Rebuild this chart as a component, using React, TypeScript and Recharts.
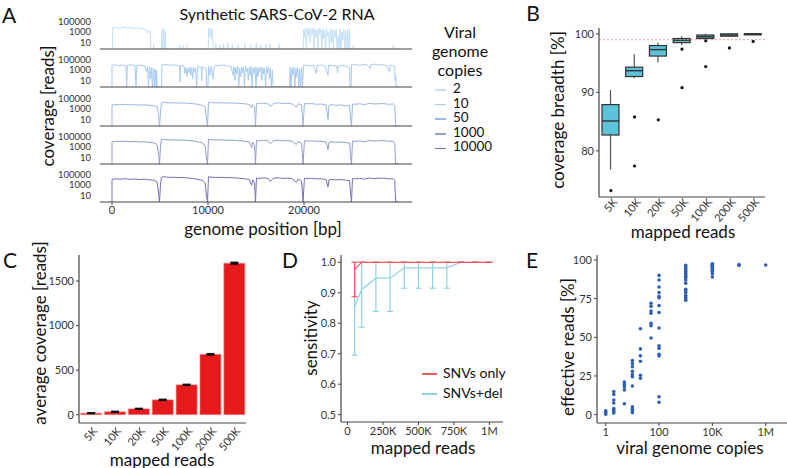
import React from 'react'
import {
  LineChart,
  Line,
  XAxis,
  YAxis,
  ComposedChart,
  BarChart,
  Bar,
  ErrorBar,
  ReferenceLine,
  ScatterChart,
  Scatter,
} from 'recharts'

const FONT = 'Lato, "Open Sans", sans-serif'
const INK = '#333'

// ---- panel A: coverage along the genome, one track per copy number ----
const copyLabels = ['2', '10', '50', '1000', '10000']
const trackColors = ['#c4dff5', '#a9cbee', '#9bb7e2', '#8f9ecb', '#7a6fb2']

// [genome position bp, coverage reads]
const cov2: [number, number][] = [
  [0, 0], [50, 0], [70, 6000], [400, 8000], [800, 5000], [1200, 9000], [1600, 6000], [2000, 7000],
  [2400, 5000], [2800, 6000], [3200, 4000], [3600, 3000], [3800, 600], [3900, 2000], [4000, 1000],
  [4030, 0], [4300, 0], [4320, 5], [4350, 0], [5150, 0], [5200, 3000], [5250, 0], [5380, 6000],
  [5430, 0], [5550, 2000], [5600, 0], [7080, 0], [7090, 3], [7110, 0], [7430, 0], [7440, 3],
  [7460, 0], [7840, 0], [7850, 3], [7870, 0], [10030, 0], [10050, 5000], [10150, 100], [10250, 6000],
  [10350, 50], [10450, 4000], [10550, 0], [10800, 0], [10820, 4], [10850, 0], [11200, 0], [11220, 3],
  [11250, 0], [11600, 0], [11620, 5], [11650, 0], [12000, 0], [12020, 8], [12100, 3], [12150, 0],
  [12500, 0], [12520, 4], [12550, 0], [13100, 0], [13120, 3], [13150, 0], [13800, 0], [13820, 5],
  [13850, 0], [14400, 0], [14420, 4], [14450, 0], [15000, 0], [15020, 6], [15050, 0], [15500, 0],
  [15520, 3], [15550, 0], [16000, 0], [16020, 5], [16050, 0], [16400, 0], [16420, 8], [16450, 0],
  [17400, 0], [17420, 6], [17450, 0], [19930, 0], [19950, 3000], [20050, 100], [20150, 5000],
  [20250, 0], [20350, 4000], [20450, 200], [20550, 6000], [20650, 10], [20750, 3000], [20850, 500],
  [20950, 5000], [21050, 0], [21150, 4000], [21250, 100], [21350, 2000], [21450, 0], [21550, 5000],
  [21650, 300], [21750, 3000], [21850, 0], [21950, 4000], [22050, 50], [22150, 2000], [22250, 0],
  [22350, 5000], [22450, 200], [22550, 1000], [22650, 0], [22750, 3000], [22850, 10], [22950, 4000],
  [23050, 0], [23150, 2000], [23250, 100], [23350, 3000], [23450, 0], [23550, 200], [23650, 0],
  [23750, 4000], [23850, 0], [23950, 1000], [24050, 30], [24150, 3000], [24250, 0], [24350, 2000],
  [24450, 0], [24550, 4000], [24650, 0], [24750, 3000], [24790, 0], [25120, 0], [25140, 3],
  [25170, 0], [29280, 0], [29300, 3], [29330, 0], [29903, 0],
]

const cov10: [number, number][] = [
  [0, 0], [1, 8000], [300, 10000], [700, 7000], [1100, 9000], [1450, 6000], [1530, 0], [1600, 8000],
  [2000, 10000], [2400, 7000], [2500, 0], [2580, 9000], [3000, 8000], [3400, 6000], [3600, 500],
  [3700, 5000], [3800, 0], [3900, 4000], [4000, 20], [4100, 3000], [4200, 0], [4300, 2000], [4400, 0],
  [4500, 1500], [4600, 0], [4650, 800], [4700, 0], [5150, 0], [5200, 9000], [5600, 12000],
  [6000, 8000], [6400, 10000], [6800, 7000], [7050, 6000], [7100, 5], [7150, 8000], [7500, 5000],
  [7600, 200], [7700, 3000], [7800, 50], [7900, 2000], [8000, 300], [8100, 4000], [8200, 100],
  [8300, 2500], [8400, 20], [8500, 3000], [8600, 500], [8700, 2000], [8820, 0], [8900, 5000],
  [9300, 3000], [9340, 10], [9400, 4000], [9800, 2000], [9860, 0], [10000, 0], [10050, 6000],
  [10200, 100], [10350, 5000], [10500, 20], [10650, 3000], [10800, 8000], [11200, 7000],
  [11600, 9000], [12000, 6000], [12400, 5000], [12600, 100], [12700, 4000], [12800, 10],
  [12900, 3000], [13000, 200], [13100, 5000], [13200, 0], [13300, 2000], [13400, 50], [13500, 4000],
  [13600, 300], [13700, 3000], [13800, 0], [13900, 6000], [14000, 500], [14100, 2000], [14200, 10],
  [14300, 3000], [14400, 100], [14500, 5000], [14600, 0], [14700, 2000], [14800, 200], [14900, 4000],
  [15000, 0], [15100, 3000], [15200, 50], [15300, 2500], [15400, 500], [15500, 4000], [15600, 10],
  [15700, 3000], [15800, 200], [15900, 2000], [16000, 0], [16100, 5000], [16200, 300], [16300, 3000],
  [16400, 20], [16500, 2000], [16600, 0], [16700, 1000], [16800, 0], [18500, 0], [18550, 3000],
  [18650, 0], [18750, 2500], [18850, 100], [18950, 4000], [19050, 0], [19150, 2000], [19250, 50],
  [19350, 3000], [19450, 0], [19550, 1500], [19650, 0], [19750, 3000], [19850, 0], [19950, 7000],
  [20300, 9000], [20700, 6000], [21000, 8000], [21300, 200], [21350, 7000], [21800, 9000],
  [22200, 6000], [22500, 100], [22550, 8000], [23000, 7000], [23400, 5000], [23500, 300],
  [23550, 6000], [24000, 8000], [24400, 5000], [24750, 3000], [24800, 0], [24900, 0], [24950, 9000],
  [25400, 11000], [25800, 8000], [26200, 12000], [26600, 10000], [26900, 2000], [26950, 11000],
  [27400, 13000], [27800, 9000], [28200, 10000], [28600, 7000], [28900, 500], [28950, 8000],
  [29300, 6000], [29450, 4000], [29500, 10], [29550, 100], [29600, 0], [29903, 0],
]

const cov50: [number, number][] = [
  [0, 0], [1, 6000], [400, 7000], [900, 6500], [1400, 8000], [1900, 6000], [2400, 7000], [2900, 5500],
  [3400, 6500], [3900, 5000], [4400, 4000], [4700, 3000], [4850, 100], [4950, 0], [5050, 200],
  [5150, 15000], [5400, 20000], [5900, 14000], [6400, 16000], [6900, 13000], [7400, 15000],
  [7900, 12000], [8400, 11000], [8900, 8000], [9400, 5000], [9700, 3000], [9850, 10], [9950, 0],
  [10050, 20000], [10300, 18000], [10800, 15000], [11300, 16000], [11800, 14000], [12300, 15000],
  [12800, 13000], [13300, 12000], [13800, 10000], [14300, 8000], [14550, 1500], [14650, 7000],
  [14850, 3000], [14950, 0], [15050, 12000], [15300, 10000], [15800, 14000], [16300, 9000],
  [16500, 3000], [16800, 12000], [17300, 15000], [17800, 11000], [18300, 13000], [18800, 9000],
  [19200, 2000], [19400, 10000], [19750, 6000], [19900, 0], [20050, 12000], [20300, 10000],
  [20800, 11000], [21300, 8000], [21800, 9000], [22300, 6000], [22500, 10], [22600, 5000],
  [22800, 7000], [23300, 5000], [23800, 6000], [24300, 4000], [24750, 5000], [24850, 10], [24950, 0],
  [25050, 9000], [25300, 8000], [25800, 10000], [26300, 7000], [26800, 12000], [27300, 9000],
  [27800, 10000], [28300, 11000], [28800, 8000], [29300, 9000], [29450, 5000], [29550, 0], [29903, 0],
]

const cov1000: [number, number][] = [
  [0, 0], [1, 10000], [400, 12000], [900, 11000], [1400, 13000], [1900, 10000], [2400, 12000],
  [2900, 9000], [3400, 10000], [3900, 8000], [4400, 6000], [4700, 3000], [4850, 50], [4950, 0],
  [5050, 1000], [5150, 25000], [5400, 30000], [5900, 22000], [6400, 25000], [6900, 20000],
  [7400, 22000], [7900, 18000], [8400, 15000], [8900, 10000], [9400, 6000], [9700, 2000], [9850, 5],
  [9950, 0], [10050, 30000], [10300, 25000], [10800, 22000], [11300, 24000], [11800, 20000],
  [12300, 21000], [12800, 18000], [13300, 16000], [13800, 13000], [14300, 9000], [14550, 800],
  [14650, 8000], [14850, 2000], [14950, 0], [15050, 18000], [15300, 15000], [15800, 20000],
  [16300, 14000], [16500, 4000], [16800, 16000], [17300, 20000], [17800, 15000], [18300, 17000],
  [18800, 12000], [19200, 3000], [19400, 12000], [19750, 5000], [19900, 0], [20050, 16000],
  [20300, 14000], [20800, 15000], [21300, 12000], [21800, 13000], [22300, 9000], [22500, 300],
  [22600, 8000], [22800, 10000], [23300, 8000], [23800, 9000], [24300, 7000], [24750, 6000],
  [24850, 20], [24950, 0], [25050, 14000], [25300, 12000], [25800, 15000], [26300, 10000],
  [26800, 18000], [27300, 14000], [27800, 16000], [28300, 17000], [28800, 12000], [29300, 13000],
  [29450, 6000], [29550, 0], [29903, 0],
]

const cov10000: [number, number][] = [
  [0, 0], [1, 12000], [400, 15000], [900, 13000], [1400, 16000], [1900, 12000], [2400, 14000],
  [2900, 11000], [3400, 13000], [3900, 10000], [4400, 8000], [4700, 4000], [4850, 30], [4950, 0],
  [5050, 1500], [5150, 30000], [5400, 40000], [5900, 28000], [6400, 32000], [6900, 25000],
  [7400, 28000], [7900, 22000], [8400, 18000], [8900, 12000], [9400, 8000], [9700, 2500], [9850, 5],
  [9950, 0], [10050, 40000], [10300, 32000], [10800, 28000], [11300, 30000], [11800, 26000],
  [12300, 27000], [12800, 22000], [13300, 20000], [13800, 16000], [14300, 11000], [14550, 900],
  [14650, 10000], [14850, 2500], [14950, 0], [15050, 22000], [15300, 18000], [15800, 25000],
  [16300, 17000], [16500, 5000], [16800, 20000], [17300, 25000], [17800, 18000], [18300, 21000],
  [18800, 15000], [19200, 3000], [19400, 14000], [19750, 6000], [19900, 0], [20050, 20000],
  [20300, 17000], [20800, 19000], [21300, 15000], [21800, 16000], [22300, 11000], [22500, 400],
  [22600, 10000], [22800, 12000], [23300, 10000], [23800, 11000], [24300, 9000], [24750, 7000],
  [24850, 20], [24950, 0], [25050, 18000], [25300, 15000], [25800, 19000], [26300, 13000],
  [26800, 22000], [27300, 17000], [27800, 20000], [28300, 21000], [28800, 15000], [29300, 16000],
  [29450, 7000], [29550, 0], [29903, 0],
]

const tracks = [cov2, cov10, cov50, cov1000, cov10000]
const genomeTicks = [0, 10000, 20000]
const LOG_MIN = -0.27
const LOG_MAX = 5.69

// ---- panel B/C: mapped reads subsampling ----
const readCats = ['5K', '10K', '20K', '50K', '100K', '200K', '500K']
const breadthLow = [76.8, 92.4, 95.1, 98.1, 99.1, 99.5, 99.9]
const breadthQ1 = [82.7, 92.7, 96.2, 98.5, 99.2, 99.6, 99.95]
const breadthMed = [85.1, 93.7, 97.3, 98.9, 99.5, 99.8, 100]
const breadthQ3 = [87.9, 94.3, 98.0, 99.2, 99.8, 100, 100]
const breadthHigh = [90.4, 96.5, 98.5, 99.6, 100, 100, 100.05]
const breadthOut1 = [73.2, 85.8, 85.3, 97.4, 98.8, 97.6, 98.7]
const breadthOut2 = [null, 77.4, null, 90.8, 94.4, null, null]

const avgCoverage = [17, 33, 66, 167, 335, 677, 1700]
const avgCoverageErr = [2, 3, 3, 4, 4, 6, 8]

// ---- panel D: sensitivity ----
const sensReads = [50000, 100000, 200000, 300000, 400000, 500000, 600000, 700000, 800000, 900000, 1000000]
const snvOnly = [0.977, 1, 1, 1, 1, 1, 1, 1, 1, 1, 1]
const snvOnlyLow = [0.887, 1, 1, 1, 1, 1, 1, 1, 1, 1, 1]
const snvDel = [0.854, 0.911, 0.948, 0.948, 0.982, 0.982, 0.982, 0.982, 1, 1, 1]
const snvDelLow = [0.695, 0.787, 0.839, 0.839, 0.915, 0.915, 0.915, 0.915, 1, 1, 1]

// ---- panel E: effective reads vs copies ----
const effCopies = [1, 2, 5, 10, 20, 50, 100, 1000, 10000, 100000, 1000000]
const effValues = [
  [2.5, 0.3, 1.5],
  [15, 13, 9.5, 7.5, 4, 3, 2, 1],
  [21, 19.5, 18, 16, 7],
  [35, 33, 31, 28, 26, 24.5, 18.5, 5, 3.5, 2.3, 1.3],
  [55.5, 42.5, 38, 34.5, 25.5, 23.5],
  [72, 70, 67, 65.5, 59, 57.5, 49.5],
  [90, 87, 82.5, 79, 76.5, 75.5, 70.5, 66, 56, 44.5, 43, 39, 38, 11.5, 8],
  [96.5, 95.5, 94.5, 93.5, 92.5, 91.5, 90.5, 89.5, 88.5, 87, 85, 81, 80, 79, 77, 76, 75, 74],
  [97.5, 97, 96.5, 96, 95.5, 95, 94, 93, 92.5, 91, 89],
  [97, 96.5],
  [96.7],
]

const tickStyle = { fontSize: 11, fill: INK, fontFamily: FONT }
const axisLine = { stroke: '#444', strokeWidth: 1.2 }

function Txt({ x, y, size = 17, rotate = 0, left = false, children }: any) {
  return (
    <div
      style={{
        position: 'absolute',
        left: x,
        top: y,
        transform: `translate(${left ? '0' : '-50%'},-50%) rotate(${rotate}deg)`,
        fontSize: size,
        lineHeight: 1,
        whiteSpace: 'nowrap',
        color: '#111',
      }}
    >
      {children}
    </div>
  )
}

function SlantTick({ x, y, payload }: any) {
  return (
    <g transform={`translate(${x + 4},${y - 2})`}>
      <text textAnchor="end" transform="rotate(-50)" dy="0.35em" fontSize={11} fill={INK} fontFamily={FONT}>
        {payload.value}
      </text>
    </g>
  )
}

const TRACK_PAD = 6

function Track({ data, color, index }: any) {
  const last = index === tracks.length - 1
  const rows = data.map(([pos, c]: [number, number]) => ({ pos, v: Math.max(Math.log10(c), LOG_MIN) }))
  const top = 18.3 + 38.1 * index - TRACK_PAD
  return (
    <div style={{ position: 'absolute', left: 0, top }}>
      <LineChart
        width={420}
        height={TRACK_PAD + 31 + (last ? 18 : 4)}
        data={rows}
        margin={{ top: TRACK_PAD, right: 8, bottom: 0, left: 0 }}
      >
        <XAxis
          dataKey="pos"
          type="number"
          domain={[-1250, 31250]}
          ticks={genomeTicks}
          height={last ? 18 : 4}
          tickSize={3}
          tickMargin={1}
          axisLine={axisLine}
          tickLine={{ stroke: '#444' }}
          tick={last ? { ...tickStyle, fontSize: 11 } : false}
          allowDataOverflow
        />
        <YAxis
          type="number"
          domain={[LOG_MIN, LOG_MAX]}
          ticks={[1, 3, 5]}
          interval={0}
          width={100}
          axisLine={false}
          tickLine={false}
          tickMargin={3}
          tick={{ ...tickStyle, fontSize: 9.5 }}
          tickFormatter={(v: number) => String(Math.round(10 ** v))}
          allowDataOverflow
        />
        <Line dataKey="v" type="linear" stroke={color} strokeWidth={1} dot={false} isAnimationActive={false} />
      </LineChart>
    </div>
  )
}

function BoxShape(props: any) {
  const { x, y, width, height, payload } = props
  const [lo, hi] = payload.range
  const top = Math.min(y, y + height)
  const h = Math.abs(height)
  const px = (v: number) => top + (h * (hi - v)) / (hi - lo)
  const cx = x + width / 2
  const boxTop = px(payload.q3)
  const boxH = Math.max(px(payload.q1) - boxTop, 1)
  return (
    <g>
      <line x1={cx} x2={cx} y1={px(hi)} y2={px(lo)} stroke="#555" strokeWidth={1.2} />
      <rect x={x} y={boxTop} width={width} height={boxH} fill="#5ec3d8" stroke="#333" strokeWidth={1.2} />
      <line x1={x} x2={x + width} y1={px(payload.med)} y2={px(payload.med)} stroke="#333" strokeWidth={1.4} />
    </g>
  )
}

function OutlierDot(props: any) {
  const { cx, cy, value, index, dataKey } = props
  if (value == null || cy == null || isNaN(cy)) return <g key={`${dataKey}-${index}`} />
  return <circle key={`${dataKey}-${index}`} cx={cx} cy={cy} r={1.6} fill="#111" />
}

function PanelB() {
  const rows = readCats.map((reads, i) => ({
    reads,
    range: [breadthLow[i], breadthHigh[i]],
    q1: breadthQ1[i],
    med: breadthMed[i],
    q3: breadthQ3[i],
    o1: breadthOut1[i],
    o2: breadthOut2[i],
  }))
  return (
    <div style={{ position: 'absolute', left: 540, top: 20 }}>
      <ComposedChart width={230} height={217} data={rows} margin={{ top: 8, right: 5, bottom: 0, left: 0 }}>
        <XAxis dataKey="reads" height={40} axisLine={axisLine} tickLine={false} tickSize={3} tick={<SlantTick />} interval={0} />
        <YAxis
          type="number"
          domain={[72.1, 101]}
          ticks={[80, 90, 100]}
          width={59}
          axisLine={axisLine}
          tickSize={3}
          tickLine={{ stroke: '#444' }}
          tick={tickStyle}
          allowDataOverflow
        />
        <ReferenceLine y={99} stroke="#f08585" strokeDasharray="2 2" strokeWidth={0.8} />
        <Bar dataKey="range" barSize={17} shape={<BoxShape />} isAnimationActive={false} />
        <Line dataKey="o1" stroke="none" dot={OutlierDot} activeDot={false} isAnimationActive={false} />
        <Line dataKey="o2" stroke="none" dot={OutlierDot} activeDot={false} isAnimationActive={false} />
      </ComposedChart>
    </div>
  )
}

function PanelC() {
  const rows = readCats.map((reads, i) => ({ reads, cov: avgCoverage[i], err: avgCoverageErr[i] }))
  return (
    <div style={{ position: 'absolute', left: 20, top: 247 }}>
      <BarChart width={230} height={216} data={rows} margin={{ top: 8, right: 4, bottom: 0, left: 0 }} barCategoryGap="7%">
        <XAxis dataKey="reads" height={40} axisLine={axisLine} tickLine={false} tick={<SlantTick />} interval={0} />
        <YAxis
          type="number"
          domain={[-93, 1792]}
          ticks={[0, 500, 1000, 1500]}
          width={59}
          axisLine={axisLine}
          tickSize={3}
          tickLine={{ stroke: '#444' }}
          tick={tickStyle}
          allowDataOverflow
        />
        <Bar dataKey="cov" fill="#e41a1c" stroke="#f28b8c" strokeWidth={0.6} isAnimationActive={false}>
          <ErrorBar dataKey="err" width={4} stroke="#111" strokeWidth={1.8} direction="y" />
        </Bar>
      </BarChart>
    </div>
  )
}

const kFmt = (v: number) => (v === 0 ? '0' : v >= 1000000 ? `${v / 1000000}M` : `${v / 1000}K`)

function PanelD() {
  const rows = sensReads.map((reads, i) => ({
    reads,
    only: snvOnly[i],
    onlyErr: [snvOnly[i] - snvOnlyLow[i], 1 - snvOnly[i]],
    del: snvDel[i],
    delErr: [snvDel[i] - snvDelLow[i], 1 - snvDel[i]],
  }))
  return (
    <div style={{ position: 'absolute', left: 290, top: 247 }}>
      <LineChart width={217} height={205} data={rows} margin={{ top: 8, right: 4, bottom: 0, left: 0 }}>
        <XAxis
          dataKey="reads"
          type="number"
          domain={[-46000, 1096000]}
          ticks={[0, 250000, 500000, 750000, 1000000]}
          tickFormatter={kFmt}
          height={30}
          axisLine={axisLine}
          tickSize={3}
          tickLine={{ stroke: '#444' }}
          tick={tickStyle}
          allowDataOverflow
        />
        <YAxis
          type="number"
          domain={[0.476, 1.024]}
          ticks={[0.5, 0.6, 0.7, 0.8, 0.9, 1.0]}
          tickFormatter={(v: number) => v.toFixed(1)}
          width={51}
          axisLine={axisLine}
          tickSize={3}
          tickLine={{ stroke: '#444' }}
          tick={tickStyle}
          allowDataOverflow
        />
        <Line dataKey="del" stroke="#8dd3e3" strokeWidth={1.2} dot={false} isAnimationActive={false}>
          <ErrorBar dataKey="delErr" width={3} stroke="#8dd3e3" strokeWidth={1.2} direction="y" />
        </Line>
        <Line dataKey="only" stroke="#f0585c" strokeWidth={1.2} dot={false} isAnimationActive={false}>
          <ErrorBar dataKey="onlyErr" width={3} stroke="#f0585c" strokeWidth={1.2} direction="y" />
        </Line>
      </LineChart>
    </div>
  )
}

const copyFmt = (v: number) => (v >= 1000000 ? `${v / 1000000}M` : v >= 10000 ? `${v / 1000}K` : String(v))

function PanelE() {
  const points = effCopies.flatMap((copies, i) => effValues[i].map((eff) => ({ copies, eff })))
  return (
    <div style={{ position: 'absolute', left: 540, top: 247 }}>
      <ScatterChart width={247} height={206} margin={{ top: 8, right: 0, bottom: 0, left: 0 }}>
        <XAxis
          dataKey="copies"
          type="number"
          scale="log"
          domain={[0.47, 6300000]}
          ticks={[1, 100, 10000, 1000000]}
          tickFormatter={copyFmt}
          height={30}
          axisLine={axisLine}
          tickSize={3}
          tickLine={{ stroke: '#444' }}
          tick={tickStyle}
          allowDataOverflow
        />
        <YAxis
          dataKey="eff"
          type="number"
          domain={[-5.4, 103.2]}
          ticks={[0, 25, 50, 75, 100]}
          width={57}
          axisLine={axisLine}
          tickSize={3}
          tickLine={{ stroke: '#444' }}
          tick={tickStyle}
          allowDataOverflow
        />
        <Scatter
          data={points}
          fill="#2f5fb5"
          isAnimationActive={false}
          shape={(p: any) => <circle cx={p.cx} cy={p.cy} r={1.8} fill="#2f5fb5" />}
        />
      </ScatterChart>
    </div>
  )
}

function Swatch({ x, y, color, w = 11 }: any) {
  return <div style={{ position: 'absolute', left: x, top: y - 0.75, width: w, height: 1.5, background: color }} />
}

export default function App() {
  return (
    <div style={{ position: 'absolute', left: 0, top: 0, width: 787, height: 468, background: '#fff', fontFamily: FONT, overflow: 'hidden' }}>
      {/* panel letters */}
      <Txt x={9} y={14} size={21}>A</Txt>
      <Txt x={533} y={12} size={21}>B</Txt>
      <Txt x={10} y={259} size={21}>C</Txt>
      <Txt x={290} y={259} size={21}>D</Txt>
      <Txt x={532} y={259} size={21}>E</Txt>

      {/* panel A */}
      <Txt x={277} y={14} size={16}>Synthetic SARS-CoV-2 RNA</Txt>
      {tracks.map((t, i) => (
        <Track key={copyLabels[i]} data={t} color={trackColors[i]} index={i} />
      ))}
      <Txt x={47} y={106} size={17} rotate={-90}>coverage [reads]</Txt>
      <Txt x={263} y={228} size={17}>genome position [bp]</Txt>
      <Txt x={460} y={32} size={16}>Viral</Txt>
      <Txt x={460} y={51} size={16}>genome</Txt>
      <Txt x={460} y={70} size={16}>copies</Txt>
      {copyLabels.map((c, i) => (
        <React.Fragment key={c}>
          <Swatch x={435} y={90 + 14.6 * i} color={trackColors[i]} />
          <Txt x={453} y={89 + 14.6 * i} size={13.5} left>{c}</Txt>
        </React.Fragment>
      ))}

      {/* panel B */}
      <PanelB />
      <Txt x={557} y={110} size={17} rotate={-90}>coverage breadth [%]</Txt>
      <Txt x={683} y={231} size={17}>mapped reads</Txt>

      {/* panel C */}
      <PanelC />
      <Txt x={39} y={333} size={17} rotate={-90}>average coverage [reads]</Txt>
      <Txt x={162} y={459} size={17}>mapped reads</Txt>

      {/* panel D */}
      <PanelD />
      <Txt x={310} y={338} size={17} rotate={-90}>sensitivity</Txt>
      <Txt x={423} y={447} size={17}>mapped reads</Txt>
      <Swatch x={422} y={374} color="#f0585c" w={15} />
      <Txt x={443} y={373} size={14} left>SNVs only</Txt>
      <Swatch x={422} y={394} color="#8dd3e3" w={15} />
      <Txt x={443} y={393} size={14} left>SNVs+del</Txt>

      {/* panel E */}
      <PanelE />
      <Txt x={567} y={347} size={17} rotate={-90}>effective reads [%]</Txt>
      <Txt x={690} y={447} size={17}>viral genome copies</Txt>
    </div>
  )
}
